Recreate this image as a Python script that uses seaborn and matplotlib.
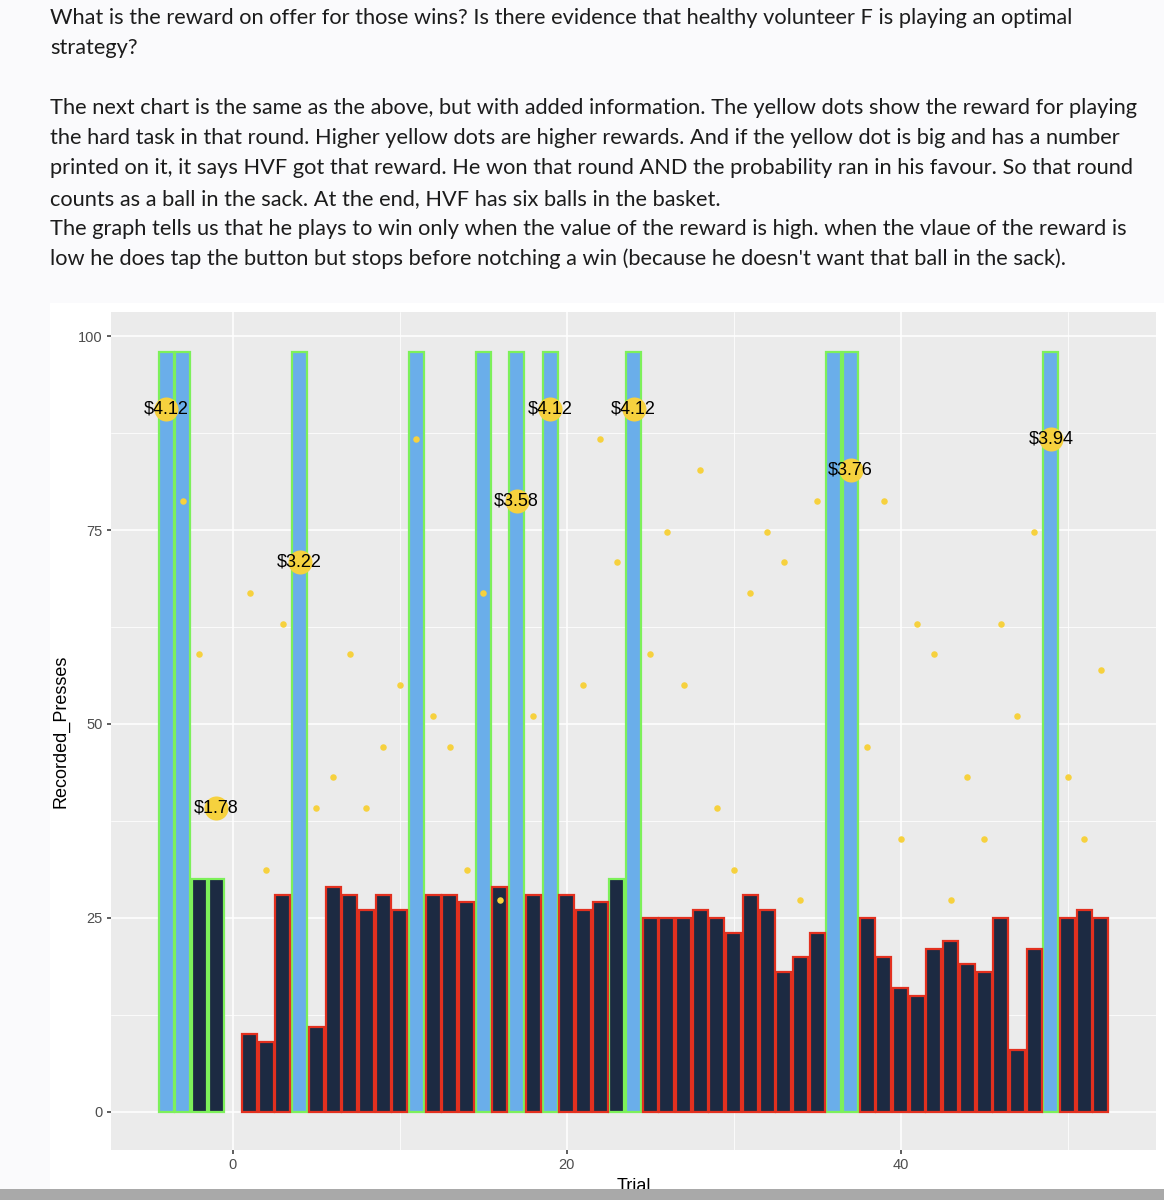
import numpy as np
import pandas as pd
import matplotlib
matplotlib.use("Agg")
import matplotlib.pyplot as plt
import seaborn as sns
from matplotlib.patches import Rectangle

# trial numbers that have a bar (trial 0 is missing)
trials = [-4, -3, -2, -1] + list(range(1, 53))
presses = [98, 98, 30, 30,
           10, 9, 28, 98, 11, 29, 28, 26, 28, 26,
           98, 28, 28, 27, 98, 29, 98, 28, 98, 28,
           26, 27, 30, 98, 25, 25, 25, 26, 25, 23,
           28, 26, 18, 20, 23, 98, 98, 25, 20, 16,
           15, 21, 22, 19, 18, 25, 8, 21, 98, 25,
           26, 25]
# rounds where the hard task was completed (blue) / easy task completed (dark, green edge)
hard_wins = [-4, -3, 4, 11, 15, 17, 19, 24, 36, 37, 49]
easy_wins = [-2, -1, 23]

# reward on offer for the hard task, dollars (nan = not visible)
reward = [4.12, 3.58, 2.68, 1.78,
          3.04, 1.42, 2.86, 3.22, 1.78, 1.96, 2.68, 1.78, 2.14, 2.50,
          3.94, 2.32, 2.14, 1.42, 3.04, 1.24, 3.58, 2.32, 4.12, np.nan,
          2.50, 3.94, 3.22, 4.12, 2.68, 3.40, 2.50, 3.76, 1.78, 1.42,
          3.04, 3.40, 3.22, 1.24, 3.58, np.nan, 3.76, 2.14, 3.58, 1.60,
          2.86, 2.68, 1.24, 1.96, 1.60, 2.86, 2.32, 3.40, 3.94, 1.96,
          1.60, 2.59]
# rewards actually collected (big labelled dots)
got_reward = [-4, -1, 4, 17, 19, 24, 37, 49]
reward_scale = 22  # reward plotted on the presses axis

paragraphs = [
    "What is the reward on offer for those wins? Is there evidence that healthy volunteer F is playing an optimal",
    "strategy?",
    "",
    "The next chart is the same as the above, but with added information. The yellow dots show the reward for playing",
    "the hard task in that round. Higher yellow dots are higher rewards. And if the yellow dot is big and has a number",
    "printed on it, it says HVF got that reward. He won that round AND the probability ran in his favour. So that round",
    "counts as a ball in the sack. At the end, HVF has six balls in the basket.",
    "The graph tells us that he plays to win only when the value of the reward is high. when the vlaue of the reward is",
    "low he does tap the button but stops before notching a win (because he doesn't want that ball in the sack).",
]

df = pd.DataFrame({"Trial": trials, "Recorded_Presses": presses, "Reward": reward})
df["kind"] = "loss"
df.loc[df.Trial.isin(hard_wins), "kind"] = "hard"
df.loc[df.Trial.isin(easy_wins), "kind"] = "easy"
df["reward_y"] = df.Reward * reward_scale

BLUE = "#6aaeea"
NAVY = "#1c2a42"
GREEN = "#7df05a"
RED = "#e2301f"
YELLOW = "#f6d13e"

sns.set_theme(style="darkgrid", rc={
    "axes.facecolor": "#ebebeb",
    "grid.color": "white",
    "axes.edgecolor": "none",
    "xtick.bottom": True,
    "ytick.left": True,
})
plt.rcParams["font.family"] = ["Liberation Sans", "DejaVu Sans"]

W, H = 1164, 1200
fig = plt.figure(figsize=(W / 100, H / 100), dpi=100, facecolor="#fafafc")

def px_rect(x0, y0, x1, y1):
    return [x0 / W, 1 - y1 / H, (x1 - x0) / W, (y1 - y0) / H]

# white card behind the chart
fig.patches.append(Rectangle((50 / W, 1 - 1189 / H), (W - 50) / W, (1189 - 303) / H,
                             transform=fig.transFigure, facecolor="white",
                             edgecolor="none", zorder=-1))

ax = fig.add_axes(px_rect(111, 312, 1156, 1150))

styles = {"hard": (BLUE, GREEN), "easy": (NAVY, GREEN), "loss": (NAVY, RED)}
for kind, (fc, ec) in styles.items():
    sub = df[df.kind == kind]
    sns.barplot(data=sub, x="Trial", y="Recorded_Presses", native_scale=True,
                width=0.9, color=fc, edgecolor=ec, linewidth=1.6,
                saturation=1, errorbar=None, ax=ax)

small = df[~df.Trial.isin(got_reward)]
big = df[df.Trial.isin(got_reward)]
sns.scatterplot(data=small, x="Trial", y="reward_y", s=22, color=YELLOW,
                linewidth=0, ax=ax, zorder=5)
sns.scatterplot(data=big, x="Trial", y="reward_y", s=300, color=YELLOW,
                linewidth=0, ax=ax, zorder=5)
for _, r in big.iterrows():
    ax.text(r.Trial, r.reward_y, f"${r.Reward:.2f}", ha="center", va="center",
            fontsize=13, color="black", zorder=6)

ax.set_xlim(-7.3, 55.3)
ax.set_ylim(-4.91, 103.1)
ax.set_xticks([0, 20, 40])
ax.set_xticks([10, 30, 50], minor=True)
ax.set_yticks([0, 25, 50, 75, 100])
ax.set_yticks([12.5, 37.5, 62.5, 87.5], minor=True)
ax.grid(which="major", color="white", linewidth=1.1)
ax.grid(which="minor", color="white", linewidth=0.55)
ax.set_axisbelow(True)
ax.tick_params(which="major", bottom=True, left=True, length=3, width=1.1,
               color="#333333", labelsize=10.5, labelcolor="#4d4d4d", pad=3)
ax.tick_params(which="minor", length=0)
ax.set_xlabel("Trial", fontsize=13, color="black", labelpad=4)
ax.set_ylabel("Recorded_Presses", fontsize=13, color="black", labelpad=6)
for s in ax.spines.values():
    s.set_visible(False)

# the text above the chart
for i, line in enumerate(paragraphs):
    if not line:
        continue
    y = 18 + 30.1 * i
    fig.text(50 / W, 1 - y / H, line, fontsize=15.65, family=["Lato", "DejaVu Sans"],
             color="#1c1c1c", va="center", ha="left")

# browser scrollbar strip at the bottom
fig.patches.append(Rectangle((0, 0), 1, (H - 1189) / H, transform=fig.transFigure,
                             facecolor="#a9a9a9", edgecolor="none", zorder=10))

fig.savefig("out.png", dpi=100, facecolor=fig.get_facecolor())
